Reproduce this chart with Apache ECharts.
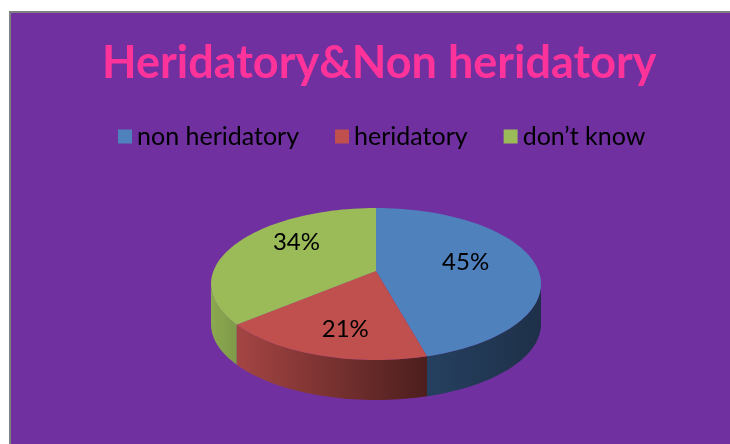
<!DOCTYPE html>
<html>
<head>
<meta charset="utf-8">
<script src="https://cdn.jsdelivr.net/npm/echarts@6/dist/echarts.min.js"></script>
<style>
  html, body { margin: 0; padding: 0; background: #fff; }
  #chart { width: 730px; height: 444px; }
</style>
</head>
<body>
<div id="chart"></div>
<script>
const categories = ['non heridatory', 'heridatory', 'don\u2019t know'];
const values = [45, 21, 34];

const topColors = ['#4F81BD', '#C0504D', '#9BBB59'];
const sideColors = [['#25405f', '#1e3049'], ['#a44543', '#4c1e1d'], ['#8ba950', '#7f9a48']];

// ellipse layout of the 3d pie (pixels)
const pie = { cx: 376, cy: 284, rx: 165, ry: 76, depth: 40, lift: 13 };

const total = values.reduce((a, b) => a + b, 0);
const starts = [];
let acc = 0;
values.forEach((v) => { starts.push(acc / total * 360); acc += v; });

// a = degrees clockwise from 12 o'clock
function pt(a, dy) {
  const r = a * Math.PI / 180;
  return [pie.cx + pie.rx * Math.sin(r), pie.cy - pie.ry * Math.cos(r) + (dy || 0)];
}
function arc(a0, a1, dy) {
  const n = Math.max(2, Math.ceil(Math.abs(a1 - a0) / 2));
  const pts = [];
  for (let i = 0; i <= n; i++) pts.push(pt(a0 + (a1 - a0) * i / n, dy));
  return pts;
}

function renderSlice(idx) {
  return function (params, api) {
    const v = api.value(0);
    const a0 = starts[idx];
    const a1 = a0 + v / total * 360;
    const children = [];
    // visible front wall
    const f0 = Math.max(a0, 90), f1 = Math.min(a1, 270);
    if (f1 > f0) {
      const top = arc(f0, f1, 0);
      const bottom = arc(f0, f1, pie.depth).reverse();
      children.push({
        type: 'polygon',
        z2: 1,
        shape: { points: top.concat(bottom) },
        style: {
          fill: {
            type: 'linear', x: 0, y: 0, x2: 1, y2: 0,
            colorStops: [
              { offset: 0, color: sideColors[idx][0] },
              { offset: 1, color: sideColors[idx][1] }
            ]
          }
        }
      });
    }
    const apex = [pie.cx, pie.cy - pie.lift];
    children.push({
      type: 'polygon',
      z2: 10,
      shape: { points: [apex].concat(arc(a0, a1, 0)) },
      style: { fill: topColors[idx] }
    });
    const mid = (a0 + a1) / 2 * Math.PI / 180;
    children.push({
      type: 'text',
      z2: 20,
      style: {
        text: Math.round(v / total * 100) + '%',
        x: pie.cx + 0.55 * pie.rx * Math.sin(mid),
        y: pie.cy - 12 - 0.8 * pie.ry * Math.cos(mid),
        fill: '#000',
        font: '24px Lato',
        align: 'center',
        verticalAlign: 'middle'
      }
    });
    return { type: 'group', children: children };
  };
}

const chart = echarts.init(document.getElementById('chart'));

chart.setOption({
  animation: false,
  backgroundColor: '#ffffff',
  graphic: [{
    type: 'rect',
    z: -10,
    shape: { x: 10, y: 12, width: 760, height: 460 },
    style: { fill: '#7030A0', stroke: '#808080', lineWidth: 2 }
  }],
  title: {
    text: 'Heridatory&Non heridatory',
    left: 97,
    top: 36,
    textStyle: {
      color: '#FF3399',
      fontFamily: 'Lato',
      fontWeight: 'bold',
      fontSize: 45
    }
  },
  legend: {
    data: categories,
    top: 119,
    left: 113,
    icon: 'rect',
    itemWidth: 14,
    itemHeight: 14,
    itemGap: 36,
    textStyle: { color: '#000', fontFamily: 'Lato', fontSize: 25 }
  },
  series: categories.map((name, i) => ({
    type: 'custom',
    name: name,
    coordinateSystem: 'none',
    silent: true,
    itemStyle: { color: topColors[i] },
    renderItem: renderSlice(i),
    data: [[values[i]]]
  }))
});
</script>
</body>
</html>
